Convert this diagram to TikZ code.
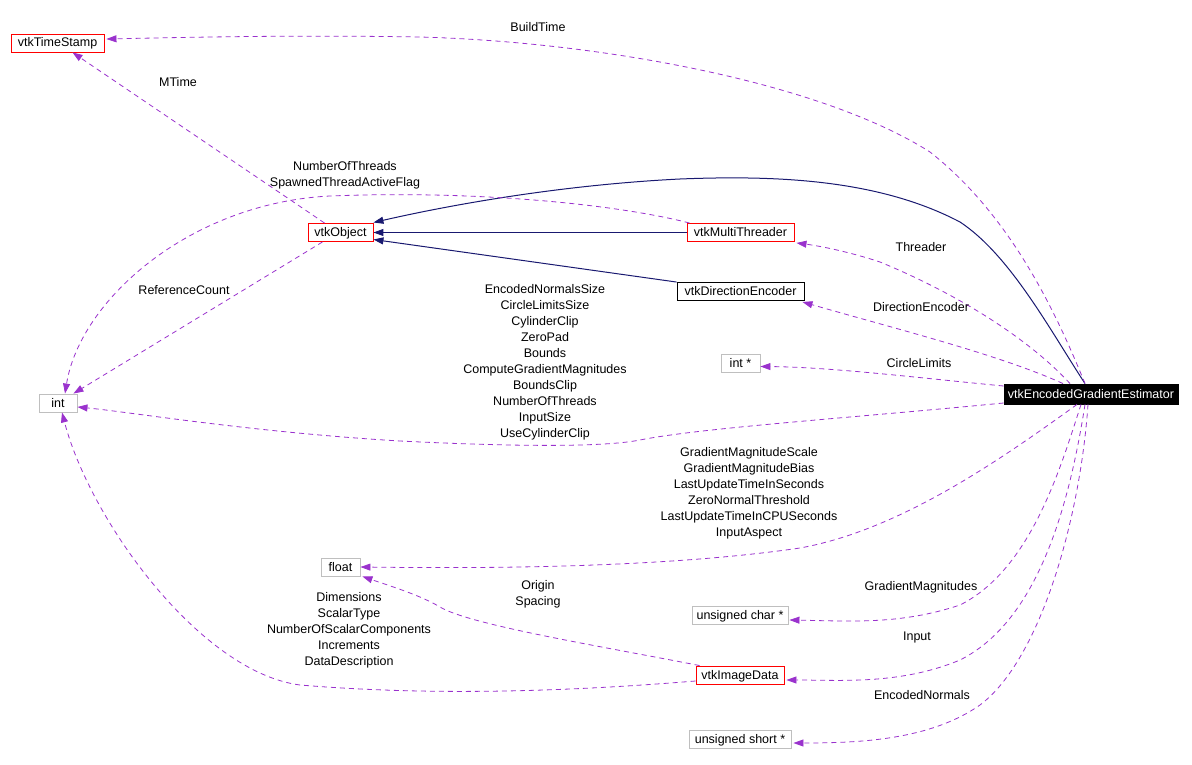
\documentclass[tikz,border=0pt]{standalone}
\usepackage{fontspec}
\setmainfont{Liberation Sans}
\usetikzlibrary{arrows.meta,calc}
\definecolor{edgepurple}{HTML}{9A32CD}
\definecolor{inhnavy}{HTML}{191970}
\definecolor{boxred}{HTML}{FF0000}
\definecolor{boxgray}{HTML}{BFBFBF}
\begin{document}
\begin{tikzpicture}[x=1pt,y=-1pt,
  font=\fontsize{12.5}{16}\selectfont,
  box/.style={draw,line width=0.9pt,inner xsep=2pt,inner ysep=0pt,minimum height=18pt,text height=9pt,text depth=1pt},
  cls/.style={box,draw=boxred},
  plainbox/.style={box,draw=boxgray},
  darkbox/.style={box,draw=black},
  mainbox/.style={box,draw=black,fill=black,text=white,minimum height=20pt},
  lbl/.style={inner sep=0pt,align=center},
  use/.style={draw=edgepurple,line width=0.8pt,dash pattern=on 5pt off 4pt,
     -{Triangle[length=10pt,width=7pt,fill=edgepurple]}},
  inh/.style={draw=inhnavy,line width=1pt,
     -{Triangle[length=10pt,width=7pt,fill=inhnavy]}}
]
\useasboundingbox (0,0) rectangle (1192,765);

% nodes
\node[cls,minimum width=93pt] (ts) at (57.5,43) {vtkTimeStamp};
\node[cls,minimum width=65pt] (obj) at (340.5,232.5) {vtkObject};
\node[cls,minimum width=107pt] (mt) at (740.5,232.5) {vtkMultiThreader};
\node[darkbox,minimum width=127pt] (de) at (740.5,291.5) {vtkDirectionEncoder};
\node[plainbox,minimum width=39pt] (intp) at (740.5,363.5) {int *};
\node[plainbox,minimum width=38pt] (int) at (58,403) {int};
\node[mainbox,minimum width=174pt] (ege) at (1091,394) {vtkEncodedGradientEstimator};
\node[plainbox,minimum width=39pt] (flt) at (340.5,567) {float};
\node[plainbox,minimum width=96pt] (uchar) at (740,615) {unsigned char *};
\node[cls,minimum width=88pt] (img) at (740,675) {vtkImageData};
\node[plainbox,minimum width=102pt] (ushort) at (740,739) {unsigned short *};

% inheritance
\draw[inh] ($(ege.north)+(-6,0)$) .. controls (1050,330) and (1010,255) .. (960,222)
   .. controls (880,180) and (780,175) .. (680,179)
   .. controls (560,185) and (450,205) .. ($(obj.east)+(0,-10)$);
\draw[inh] (mt.west) -- (obj.east);
\draw[inh] (de.north west) -- ($(obj.east)+(0,7)$);

% usage edges
\draw[use] ($(ege.north)+(-6,0)$) .. controls (1055,310) and (1010,215) .. (930,152)
   .. controls (820,82) and (600,42) .. (420,37)
   .. controls (300,35) and (200,37) .. ($(ts.east)+(2,-4)$);
\draw[use] ($(obj.north west)+(17,0)$) -- ($(ts.south)+(15,0)$);
\draw[use] ($(mt.north west)+(3,0)$) .. controls (620,205) and (480,190) .. (330,196)
   .. controls (190,203) and (80,300) .. ($(int.north)+(7,0)$);
\draw[use] ($(obj.south)+(-18,0)$) -- ($(int.north east)+(-4,0)$);
\draw[use] ($(ege.west)+(0,9)$) .. controls (850,418) and (700,428) .. (640,440)
   .. controls (600,448) and (500,446) .. (400,441)
   .. controls (250,432) and (130,412) .. ($(int.east)+(0,4)$);
\draw[use] ($(img.west)+(0,6)$) .. controls (550,693) and (420,695) .. (300,685)
   .. controls (200,672) and (90,520) .. ($(int.south)+(4,0)$);
\draw[use] ($(img.north west)+(4,0)$) .. controls (600,646) and (470,625) .. (440,607)
   .. controls (420,595) and (390,586) .. ($(flt.south east)+(2,0)$);
\draw[use] ($(ege.south)+(-14,0)$) .. controls (1000,460) and (900,530) .. (800,548)
   .. controls (650,570) and (450,568) .. (flt.east);
\draw[use] ($(ege.north)+(-21,0)$) .. controls (1030,340) and (960,295) .. (880,262)
   .. controls (850,252) and (820,246) .. ($(mt.south east)+(2,1)$);
\draw[use] ($(ege.north)+(-28,0)$) .. controls (1000,355) and (900,330) .. ($(de.south east)+(-2,1)$);
\draw[use] ($(ege.west)+(0,-8)$) .. controls (920,378) and (830,367) .. ($(intp.east)+(0,3)$);
\draw[use] ($(ege.south)+(-10,0)$) .. controls (1060,470) and (1030,570) .. (960,605)
   .. controls (900,625) and (850,621) .. ($(uchar.east)+(1,5)$);
\draw[use] ($(ege.south)+(-6,0)$) .. controls (1070,500) and (1040,620) .. (960,660)
   .. controls (900,685) and (840,680) .. ($(img.east)+(2,5)$);
\draw[use] ($(ege.south)+(-3,0)$) .. controls (1080,520) and (1040,660) .. (980,705)
   .. controls (930,740) and (860,743) .. ($(ushort.east)+(2,4)$);

% labels
\node[lbl] (lbuild) at (538,27) {BuildTime};
\node[lbl] (lmtime) at (178,82) {MTime};
\node[lbl] (lthreads) at (345,175) {NumberOfThreads\\SpawnedThreadActiveFlag};
\node[lbl] (lref) at (184,290) {ReferenceCount};
\node[lbl] (lints) at (545,362) {EncodedNormalsSize\\CircleLimitsSize\\CylinderClip\\ZeroPad\\Bounds\\ComputeGradientMagnitudes\\BoundsClip\\NumberOfThreads\\InputSize\\UseCylinderClip};
\node[lbl] (lthreader) at (921,247) {Threader};
\node[lbl] (ldir) at (921,307) {DirectionEncoder};
\node[lbl] (lcircle) at (919,363) {CircleLimits};
\node[lbl] (lfloats) at (749,493) {GradientMagnitudeScale\\GradientMagnitudeBias\\LastUpdateTimeInSeconds\\ZeroNormalThreshold\\LastUpdateTimeInCPUSeconds\\InputAspect};
\node[lbl] (lorigin) at (538,594) {Origin\\Spacing};
\node[lbl] (ldims) at (349,630) {Dimensions\\ScalarType\\NumberOfScalarComponents\\Increments\\DataDescription};
\node[lbl] (lgm) at (921,587) {GradientMagnitudes};
\node[lbl] (linput) at (917,637) {Input};
\node[lbl] (lenc) at (922,695) {EncodedNormals};
\end{tikzpicture}
\end{document}
